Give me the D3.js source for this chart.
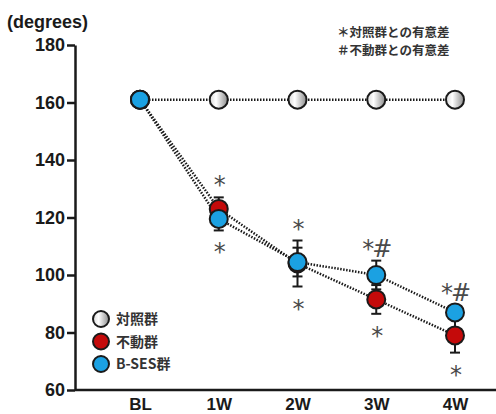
<!DOCTYPE html>
<html>
<head>
<meta charset="utf-8">
<script src="https://cdn.jsdelivr.net/npm/d3@7"></script>
<style>
  body { margin: 0; background: #fff; }
  svg { display: block; font-family: "Liberation Sans", Arial, sans-serif; }
  .tick text { font-weight: bold; }
  .jp { font-family: "Noto Sans CJK JP", sans-serif; }
</style>
</head>
<body>
<div id="chart"><svg width="496" height="414"></svg></div>
<script>
// data
const weeks = ["BL", "1W", "2W", "3W", "4W"];
const yTicks = [60, 80, 100, 120, 140, 160, 180];

const controlMean = [161, 161, 161, 161, 161];
const immobMean = [161, 123, 104, 91.5, 79];
const immobErr = [0, 4, 8, 5, 6];
const sesMean = [161, 119.5, 104.5, 100, 87];
const sesErr = [0, 4, 5, 5, 2.5];

const sigAbove = ["", "*", "*", "*#", "*#"];
const sigBelow = ["", "*", "*", "*", "*"];

const legendLabels = ["対照群", "不動群", "B-SES群"];
const noteLines = ["＊対照群との有意差", "＃不動群との有意差"];

const svg = d3.select("#chart").select("svg");
const margin = {top: 45, left: 75, bottom: 24};

// gradient for the control markers
const defs = svg.append("defs");
const grad = defs.append("linearGradient").attr("id", "grayGrad")
	.attr("x1", "0%").attr("x2", "100%").attr("y1", "0%").attr("y2", "0%");
grad.append("stop").attr("offset", "0%").attr("stop-color", "#d8d8d8");
grad.append("stop").attr("offset", "35%").attr("stop-color", "#ffffff");
grad.append("stop").attr("offset", "100%").attr("stop-color", "#8c8c8c");

// scales
const xScale = d3.scalePoint().domain(weeks).range([140, 455]);
const yScale = d3.scaleLinear().domain([60, 180]).range([390, margin.top]);

// y axis
const yAxis = svg.append("g")
	.attr("transform", `translate(${margin.left},0)`)
	.call(d3.axisLeft(yScale)
		.tickValues(yTicks)
		.tickSize(8)
		.tickSizeOuter(0)
		.tickPadding(2));
yAxis.select(".domain").attr("stroke", "#1a1a1a").attr("stroke-width", 2.5);
yAxis.selectAll(".tick line").attr("stroke", "#1a1a1a").attr("stroke-width", 2.5);
yAxis.selectAll(".tick text").attr("font-size", 18).attr("fill", "#1a1a1a");

// x axis
const xAxis = svg.append("g")
	.attr("transform", `translate(0,${yScale(60)})`)
	.call(d3.axisBottom(xScale).tickSize(0).tickPadding(8));
xAxis.select(".domain").attr("d", `M${margin.left},0H496`)
	.attr("stroke", "#1a1a1a").attr("stroke-width", 2.5);
xAxis.selectAll(".tick text").attr("font-size", 17).attr("fill", "#1a1a1a");

// axis title
svg.append("text")
	.attr("x", 7).attr("y", 28)
	.attr("font-size", 18).attr("font-weight", "bold").attr("fill", "#1a1a1a")
	.text("(degrees)");

// notes
svg.selectAll(".note")
  .data(noteLines)
	.enter().append("text")
	.attr("class", "note jp")
	.attr("x", 337)
	.attr("y", (d, i) => 37 + i * 18)
	.attr("font-size", 12.5).attr("font-weight", "bold").attr("fill", "#333")
	.text(d => d);

const plot = svg.append("g");

// lines
const line = d3.line()
	.x((d, i) => xScale(weeks[i]))
	.y(d => yScale(d));

[controlMean, immobMean, sesMean].forEach(s => {
	plot.append("path")
		.datum(s)
		.attr("fill", "none")
		.attr("stroke", "#1a1a1a")
		.attr("stroke-width", 2.5)
		.attr("stroke-dasharray", "1.5,1.5")
		.attr("d", line);
});

// error bars
function errorBars(mean, err) {
	const g = plot.append("g");
	weeks.forEach((w, i) => {
		if (!err[i]) return;
		const x = xScale(w);
		const y0 = yScale(mean[i] - err[i]);
		const y1 = yScale(mean[i] + err[i]);
		g.append("line").attr("x1", x).attr("x2", x).attr("y1", y0).attr("y2", y1)
			.attr("stroke", "#1a1a1a").attr("stroke-width", 2);
		[y0, y1].forEach(y => {
			g.append("line").attr("x1", x - 5).attr("x2", x + 5).attr("y1", y).attr("y2", y)
				.attr("stroke", "#1a1a1a").attr("stroke-width", 2);
		});
	});
}
errorBars(immobMean, immobErr);
errorBars(sesMean, sesErr);

// points
function points(mean, fill) {
	plot.append("g").selectAll("circle")
	  .data(mean)
		.enter().append("circle")
		.attr("cx", (d, i) => xScale(weeks[i]))
		.attr("cy", d => yScale(d))
		.attr("r", 9)
		.attr("fill", fill)
		.attr("stroke", "#1a1a1a")
		.attr("stroke-width", 2);
}
points(controlMean, "url(#grayGrad)");
points(immobMean, "#c40a0a");
points(sesMean, "#1ba1e2");

// significance marks
const sig = svg.append("g")
	.attr("font-family", "DejaVu Sans")
	.attr("font-size", 24)
	.attr("fill", "#4a4a4a")
	.attr("text-anchor", "middle")
	.attr("letter-spacing", -2);
weeks.forEach((w, i) => {
	const top = Math.max(immobMean[i] + immobErr[i], sesMean[i] + sesErr[i]);
	const bottom = Math.min(immobMean[i] - immobErr[i], sesMean[i] - sesErr[i]);
	sig.append("text")
		.attr("x", xScale(w)).attr("y", yScale(top) - 17 + 13)
		.text(sigAbove[i]);
	sig.append("text")
		.attr("x", xScale(w)).attr("y", yScale(bottom) + 17 + 13)
		.text(sigBelow[i]);
});

// legend
const legendFills = ["url(#grayGrad)", "#c40a0a", "#1ba1e2"];
const legend = svg.append("g").attr("transform", "translate(101,319)");
legend.selectAll("circle")
  .data(legendLabels)
	.enter().append("circle")
	.attr("cx", 0).attr("cy", (d, i) => i * 22.5)
	.attr("r", 8)
	.attr("fill", (d, i) => legendFills[i])
	.attr("stroke", "#1a1a1a").attr("stroke-width", 2);
legend.selectAll("text")
  .data(legendLabels)
	.enter().append("text")
	.attr("class", "jp")
	.attr("x", 15).attr("y", (d, i) => i * 22.5 + 5)
	.attr("font-size", 14).attr("font-weight", "bold").attr("fill", "#333")
	.text(d => d);
</script>
</body>
</html>
